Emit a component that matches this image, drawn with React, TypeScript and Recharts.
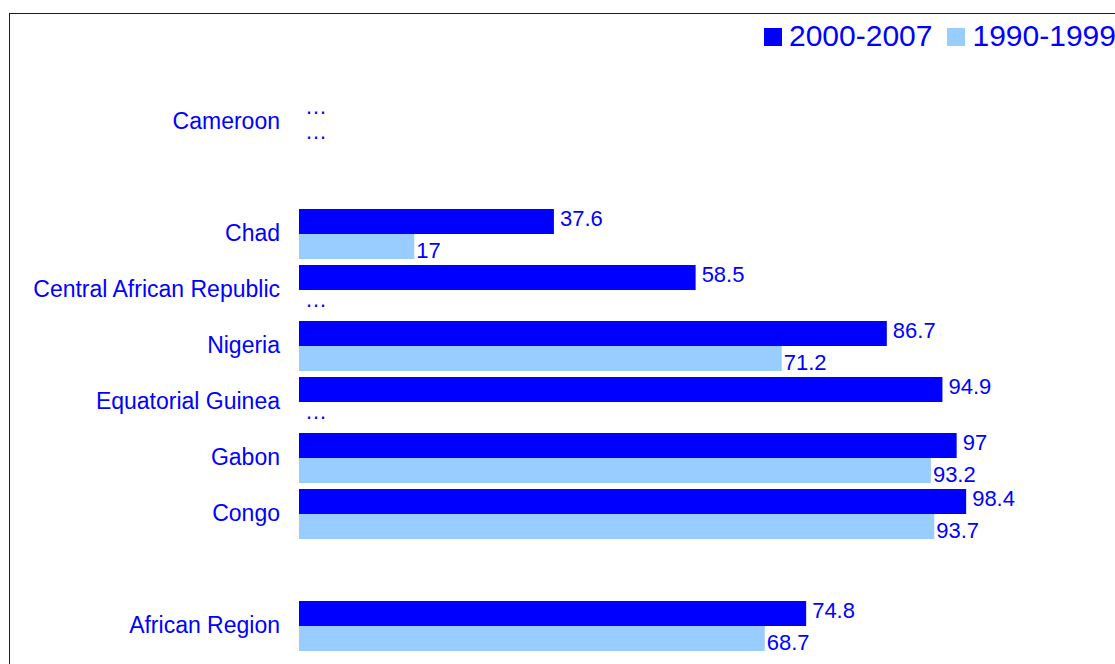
import React from 'react';
import { BarChart, Bar, XAxis, YAxis, Legend, LabelList } from 'recharts';

// rows from top to bottom; '' and ' ' are spacer rows
const categories = [
  'Cameroon',
  '',
  'Chad',
  'Central African Republic',
  'Nigeria',
  'Equatorial Guinea',
  'Gabon',
  'Congo',
  ' ',
  'African Region',
];
const recent = [null, null, 37.6, 58.5, 86.7, 94.9, 97, 98.4, null, 74.8];
const earlier = [null, null, 17, null, 71.2, null, 93.2, 93.7, null, 68.7];

const seriesNames = ['2000-2007', '1990-1999'];
const DARK = '#0000ff';
const LIGHT = '#99ccff';
const TEXT = '#0000ff';
const FONT = '"Liberation Sans", Arial, sans-serif';
const BAR_SIZE = 25;
const TICK_GAP = 19;

const data = categories.map((name, i) => ({
  name,
  recent: recent[i] ?? 0,
  earlier: earlier[i] ?? 0,
  // missing values ("…") are only shown for real rows, not spacers
  recentMissing: name.trim() !== '' && recent[i] == null,
  earlierMissing: name.trim() !== '' && earlier[i] == null,
  recentLabel: recent[i] == null ? '' : String(recent[i]),
  earlierLabel: earlier[i] == null ? '' : String(earlier[i]),
}));

const makeLabel = (dark: boolean) => (props: any) => {
  const { x, y, width, height, value } = props;
  if (!value) return null;
  const cy = Number(y) + Number(height) / 2;
  return (
    <text
      x={Number(x) + Number(width) + (dark ? 6 : 2)}
      y={cy + (dark ? 4.5 : 11)}
      fill={TEXT}
      fontSize={22}
      fontFamily={FONT}
    >
      {value}
    </text>
  );
};

// category name, plus "…" after the axis for values that are not available
const CategoryTick = (props: any) => {
  const { x, y, payload, index } = props;
  const row = data[index] || ({} as any);
  const dotsX = x + TICK_GAP + 6;
  return (
    <g>
      <text x={x} y={y} dy="0.3em" textAnchor="end" fill={TEXT} fontSize={23} fontFamily={FONT}>
        {payload.value}
      </text>
      {row.recentMissing && (
        <text x={dotsX} y={y - BAR_SIZE / 2 + 4.5} fill={TEXT} fontSize={22} fontFamily={FONT}>
          …
        </text>
      )}
      {row.earlierMissing && (
        <text x={dotsX} y={y + BAR_SIZE / 2 + 4} fill={TEXT} fontSize={22} fontFamily={FONT}>
          …
        </text>
      )}
    </g>
  );
};

const LegendContent = () => (
  <div style={{ display: 'flex', alignItems: 'flex-start', fontFamily: FONT }}>
    {seriesNames.map((s, i) => (
      <div key={s} style={{ display: 'flex', alignItems: 'flex-start', marginLeft: i ? 15 : 0 }}>
        <div style={{ width: 18, height: 18, marginTop: 7, background: i ? LIGHT : DARK }} />
        <span style={{ marginLeft: 7, fontSize: 30, lineHeight: '29px', color: TEXT, whiteSpace: 'nowrap' }}>
          {s}
        </span>
      </div>
    ))}
  </div>
);

export default function App() {
  return (
    <div style={{ position: 'fixed', left: 0, top: 0, width: 1115, height: 664, overflow: 'hidden', background: '#fff' }}>
      <div
        style={{
          position: 'absolute',
          left: 9,
          top: 13,
          width: 1200,
          height: 700,
          border: '1px solid #0000ff',
        }}
      />
      <div style={{ position: 'absolute', left: 0, top: 0 }}>
        <BarChart
          width={1115}
          height={664}
          data={data}
          layout="vertical"
          margin={{ top: 94, right: 138, left: 0, bottom: 10 }}
          barGap={0}
          barSize={BAR_SIZE}
        >
          <XAxis type="number" domain={[0, 100]} hide />
          <YAxis
            type="category"
            dataKey="name"
            width={299}
            axisLine={false}
            tickLine={false}
            tickSize={0}
            tickMargin={TICK_GAP}
            interval={0}
            tick={<CategoryTick />}
          />
          <Legend
            layout="horizontal"
            verticalAlign="middle"
            align="center"
            content={<LegendContent />}
            wrapperStyle={{ left: 764, top: 21, width: 400 }}
          />
          <Bar dataKey="recent" name={seriesNames[0]} fill={DARK} isAnimationActive={false}>
            <LabelList dataKey="recentLabel" content={makeLabel(true)} />
          </Bar>
          <Bar dataKey="earlier" name={seriesNames[1]} fill={LIGHT} isAnimationActive={false}>
            <LabelList dataKey="earlierLabel" content={makeLabel(false)} />
          </Bar>
        </BarChart>
      </div>
    </div>
  );
}
